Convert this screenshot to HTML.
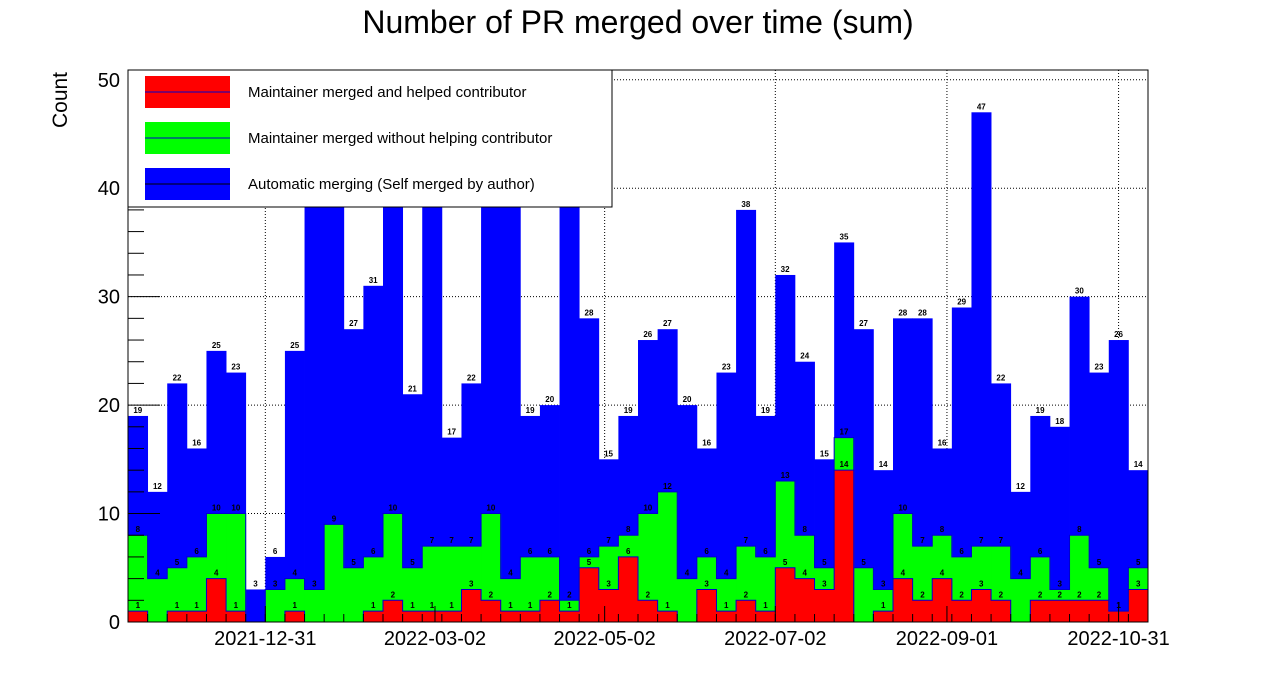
<!DOCTYPE html>
<html><head><meta charset="utf-8"><style>
body{margin:0;background:#fff;}
svg{display:block;font-family:"Liberation Sans",Arial,sans-serif;}
</style></head><body>
<svg id="chart" width="1276" height="692" viewBox="0 0 1276 692">
<rect width="1276" height="692" fill="#fff"/>
<text x="638" y="33" font-size="32" text-anchor="middle">Number of PR merged over time (sum)</text>
<text transform="translate(67,100) rotate(-90)" font-size="21" text-anchor="middle">Count</text>
<g id="grid"></g><g id="bars"></g><g id="labels"></g><g id="axes"></g>
<g>
<rect x="128" y="70" width="484" height="137" fill="#fff" stroke="#000" stroke-width="1"/>
<rect x="145" y="76" width="85" height="32" fill="#ff0000"/>
<line x1="145" y1="92" x2="230" y2="92" stroke="#0000cc"/>
<text x="248" y="97" font-size="15">Maintainer merged and helped contributor</text>
<rect x="145" y="122" width="85" height="32" fill="#00ff00"/>
<line x1="145" y1="138" x2="230" y2="138" stroke="#0000cc"/>
<text x="248" y="143" font-size="15">Maintainer merged without helping contributor</text>
<rect x="145" y="168" width="85" height="32" fill="#0000ff"/>
<line x1="145" y1="184" x2="230" y2="184" stroke="#000"/>
<text x="248" y="189" font-size="15">Automatic merging (Self merged by author)</text>
</g>
</svg>
<script>
const helped   = [1,0,1,1,4,1,0,0,1,0,0,0,1,2,1,1,1,3,2,1,1,2,1,5,3,6,2,1,0,3,1,2,1,5,4,3,14,0,1,4,2,4,2,3,2,0,2,2,2,2,1,3];
const greenTop = [8,4,5,6,10,10,0,3,4,3,9,5,6,10,5,7,7,7,10,4,6,6,2,6,7,8,10,12,4,6,4,7,6,13,8,5,17,5,3,10,7,8,6,7,7,4,6,3,8,5,1,5];
const total    = [19,12,22,16,25,23,3,6,25,41,44,27,31,42,21,40,17,22,45,43,19,20,41,28,15,19,26,27,20,16,23,38,19,32,24,15,35,27,14,28,28,16,29,47,22,12,19,18,30,23,26,14];
const yTicks = [0,10,20,30,40,50];
const xLabels = ["2021-12-31","2022-03-02","2022-05-02","2022-07-02","2022-09-01","2022-10-31"];
const xLabelBins = [7,15.65,24.3,33,41.75,50.5];

const NS="http://www.w3.org/2000/svg";
const X0=128,X1=1148,Y0=622,YT=70,YMAX=50.9;
const nb=total.length, bw=(X1-X0)/nb;
const xs=i=>X0+i*bw;
const ys=v=>Y0-v*(Y0-YT)/YMAX;
function mk(tag,attrs,parent){const e=document.createElementNS(NS,tag);for(const k in attrs)e.setAttribute(k,attrs[k]);parent.appendChild(e);return e;}
const grid=document.getElementById('grid'),bars=document.getElementById('bars'),labels=document.getElementById('labels'),axes=document.getElementById('axes');

yTicks.forEach(t=>{if(t>0){const l=mk('line',{x1:X0,x2:X1,y1:ys(t),y2:ys(t),stroke:'#000','stroke-dasharray':'1,2','stroke-width':1},grid);

}});
xLabelBins.forEach(b=>{const l=mk('line',{x1:xs(b),x2:xs(b),y1:YT,y2:Y0,stroke:'#000','stroke-dasharray':'1,2','stroke-width':1},grid);

});

function layer(vals,color,name,edge){
  vals.forEach((v,i)=>{if(v<=0)return;const r=mk('rect',{x:xs(i),y:ys(v),width:bw+0.4,height:Y0-ys(v),fill:color},bars);
  
  });
  if(edge){let d='M'+X0+','+Y0;vals.forEach((v,i)=>{d+=' L'+xs(i)+','+ys(v)+' L'+xs(i+1)+','+ys(v);});d+=' L'+X1+','+Y0;
  const p=mk('path',{d:d,fill:'none',stroke:edge,'stroke-width':1},bars);
  
  }
}
layer(total,'#0000ff','automatic',null);
layer(greenTop,'#00ff00','not-helped','#0000cc');
layer(helped,'#ff0000','helped','#0000cc');

[helped,greenTop,total].forEach((arr,k)=>{arr.forEach((v,i)=>{if(v<=0)return;
  const t=mk('text',{x:xs(i)+bw/2,y:ys(v)-3,'font-size':8,'font-weight':'bold','text-anchor':'middle'},labels);
  t.textContent=v;
  
  });});

mk('rect',{x:X0,y:YT,width:X1-X0,height:Y0-YT,fill:'none',stroke:'#000','stroke-width':1},axes);
for(let v=0;v<=50;v+=2){const major=v%10===0;mk('line',{x1:X0,x2:X0+(major?32:16),y1:ys(v),y2:ys(v),stroke:'#000','stroke-width':1},axes);}
yTicks.forEach(t=>{const e=mk('text',{x:120,y:ys(t)+7,'font-size':20,'text-anchor':'end'},axes);e.textContent=t;

});
for(let i=0;i<=nb;i+=1){mk('line',{x1:xs(i),x2:xs(i),y1:Y0,y2:Y0-8,stroke:'#000','stroke-width':1},axes);}
xLabels.forEach((s,i)=>{const x=xs(xLabelBins[i]);mk('line',{x1:x,x2:x,y1:Y0,y2:Y0-16,stroke:'#000','stroke-width':1},axes);
const e=mk('text',{x:x,y:645,'font-size':20,'text-anchor':'middle'},axes);e.textContent=s;

});
</script>
</body></html>
